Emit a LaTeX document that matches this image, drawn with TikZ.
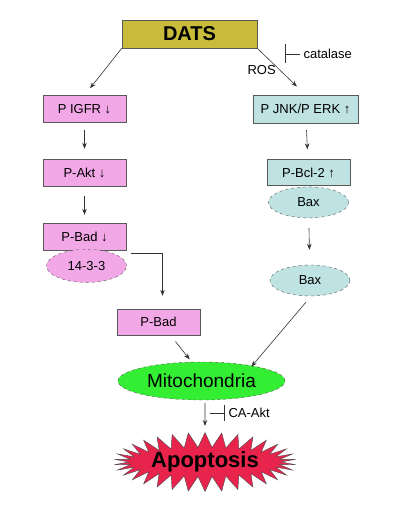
\documentclass[tikz,border=0pt]{standalone}
\usepackage{fontspec}
\setmainfont{Liberation Sans}
\usepackage{tikz}
\usetikzlibrary{shapes.geometric, shapes.symbols, arrows.meta, positioning, calc}
\definecolor{datsyellow}{HTML}{C8BC3A}
\definecolor{boxpink}{HTML}{F2A8E6}
\definecolor{boxblue}{HTML}{BFE2E2}
\definecolor{mitogreen}{HTML}{33EE33}
\definecolor{apored}{HTML}{E8244C}
\definecolor{linegray}{HTML}{333333}

\begin{document}
\begin{tikzpicture}[
  x=1pt, y=-1pt,
  every node/.style={font=\fontsize{13}{15}\selectfont},
  pinkbox/.style={
    rectangle, minimum width=83pt, minimum height=27pt,
    align=center, draw=gray!70!black, fill=boxpink,
  },
  bluebox/.style={
    rectangle, minimum width=83pt, minimum height=26pt,
    align=center, draw=gray!70!black, fill=boxblue,
  },
  pinkoval/.style={
    ellipse, minimum width=80pt, minimum height=33pt,
    draw=gray!70!black, dashed, fill=boxpink,
  },
  blueoval/.style={
    ellipse, minimum width=80pt, minimum height=31pt,
    draw=gray!70!black, dashed, fill=boxblue,
  },
  arrow/.style={-{Stealth[length=6pt, width=4.5pt]}, semithick, color=linegray},
  inhibit/.style={-{Bar[width=19pt]}, semithick, color=linegray},
]
\useasboundingbox (0,0) rectangle (400,508);

% Top — DATS
\node[rectangle, draw=gray!70!black, fill=datsyellow,
      minimum width=135pt, minimum height=28pt,
      font=\fontsize{20}{24}\selectfont\bfseries]
      (dats) at (189.5,34) {DATS};

% Left branch
\node[pinkbox] (igfr)  at (84.5,109)  {P IGFR ↓};
\node[pinkbox] (akt)   at (84.5,172.5) {P-Akt ↓};
\node[pinkbox] (pbad)  at (84.5,236.5) {P-Bad ↓};
\node[pinkoval, below=-1pt of pbad, xshift=2pt] (ywha) {14-3-3};
\node[pinkbox, minimum height=26pt] (pbadfree) at (158.5,322) {P-Bad};

% Right branch
\node[bluebox, minimum width=105pt, minimum height=28pt]
      (jnk)  at (305.5,109)  {P JNK/P ERK ↑};
\node[bluebox] (bcl)   at (308.5,172.5) {P-Bcl-2 ↑};
\node[blueoval, below=1pt of bcl] (bax) {Bax};
\node[blueoval] (baxfree) at (310,280.5) {Bax};

% Bottom — mitochondria and apoptosis
\node[ellipse, draw=gray!70!black, dashed, fill=mitogreen,
      minimum width=167pt, minimum height=38pt,
      font=\fontsize{19}{22}\selectfont]
      (mito) at (201.5,381) {Mitochondria};
\node[starburst, starburst points=34, starburst point height=15pt,
      random starburst=0, draw=gray!60!black, fill=apored,
      minimum width=170pt, minimum height=52pt, inner sep=0pt,
      font=\fontsize{22}{26}\selectfont\bfseries]
      (apop) at (205,462) {Apoptosis};

% Side labels
\node[anchor=west] (ros)      at (244,70)  {ROS};
\node[anchor=west] (catalase) at (300,54)  {catalase};
\node[anchor=west] (caakt)    at (225,413) {CA-Akt};

% Arrows — from DATS
\draw[arrow, shorten >=9pt] (dats.south west) -- (igfr.north);
\draw[arrow, shorten >=12pt] (dats.south east) -- (jnk.north);
\draw[inhibit] (catalase.west) -- ++(-15,0);

% Arrows — left branch
\draw[arrow, shorten <=7pt, shorten >=10pt] (igfr) -- (akt);
\draw[arrow, shorten <=10pt, shorten >=8pt] (akt) -- (pbad);
\coordinate (bend) at ($(pbadfree.north)+(4,0)$);
\draw[arrow, shorten >=13pt] ($(pbad.south east)+(5,3)$) -| (bend);
\draw[arrow, shorten <=8pt, shorten >=3pt] ($(pbadfree.south)+(12,0)$) -- ($(mito.north)+(-10,0)$);

% Arrows — right branch
\draw[arrow, shorten <=7pt, shorten >=10pt] (jnk) -- (bcl);
\draw[arrow, shorten <=10pt, shorten >=15pt] (bax) -- (baxfree);
\draw[arrow, shorten <=8pt, shorten >=1pt] ($(baxfree.south)+(1,0)$) -- ($(mito.north east)+(-10,0)$);

% Mitochondria -> apoptosis, blocked by CA-Akt
\draw[arrow, thick, shorten <=3pt, shorten >=6pt] ($(mito.south)+(3.5,0)$) -- (apop.north);
\draw[inhibit, {Bar[width=16pt]}-] (caakt.west) -- ++(-15,0);

\end{tikzpicture}
\end{document}
